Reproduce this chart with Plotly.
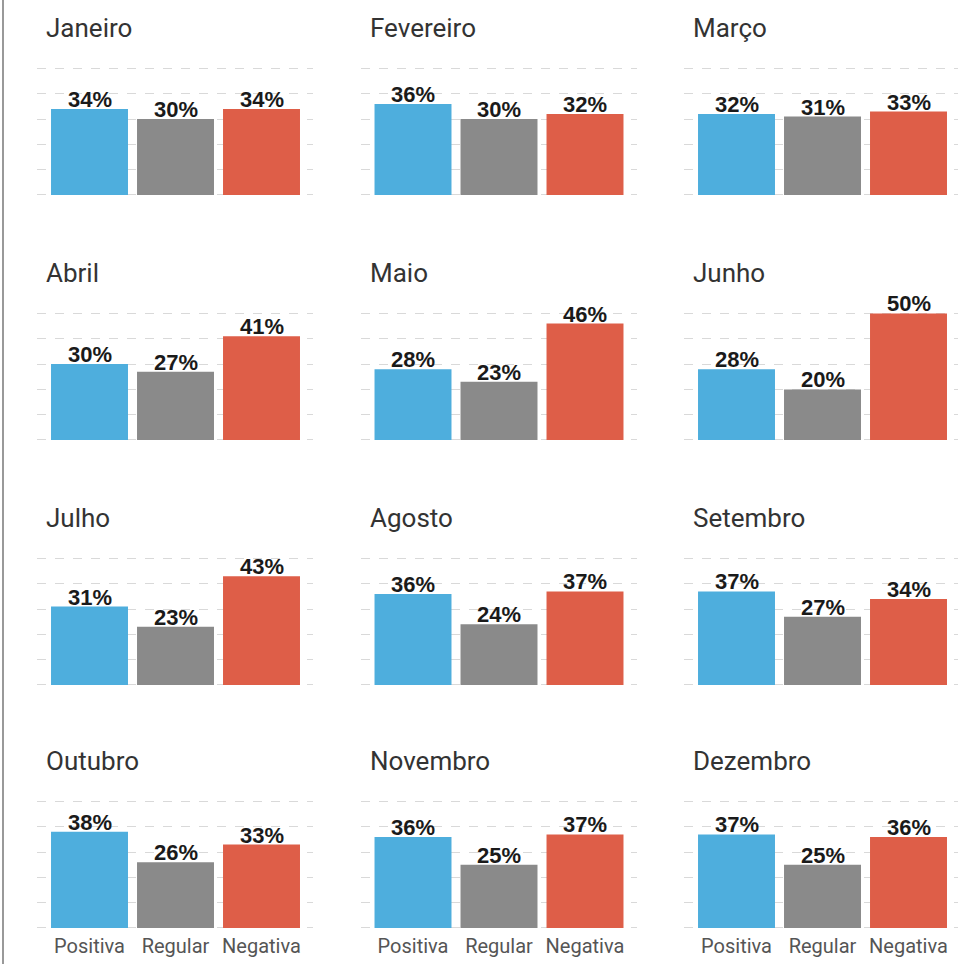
import plotly.graph_objects as go

months = ["Janeiro", "Fevereiro", "Março", "Abril", "Maio", "Junho",
          "Julho", "Agosto", "Setembro", "Outubro", "Novembro", "Dezembro"]
categories = ["Positiva", "Regular", "Negativa"]
positiva = [34, 36, 32, 30, 28, 28, 31, 36, 37, 38, 36, 37]
regular = [30, 30, 31, 27, 23, 20, 23, 24, 27, 26, 25, 25]
negativa = [34, 32, 33, 41, 46, 50, 43, 37, 34, 33, 37, 36]
colors = ["#4EAEDD", "#8A8A8A", "#DE5E48"]

W, H = 958, 964
fig = go.Figure()

col_left = [37, 360.5, 684]
row_bottom = [195, 440, 685, 928]
dom_w = 276
px_per_cat = 86
first_center_off = 52.5
px_per_pct = 2.53
pad_pct = 0.8

annotations = []
for i, m in enumerate(months):
    r, c = divmod(i, 3)
    L = col_left[c]
    R = min(L + dom_w, W)
    B = row_bottom[r] + pad_pct * px_per_pct
    T = row_bottom[r] - (50 + pad_pct) * px_per_pct
    n = i + 1
    xa = "x" if n == 1 else f"x{n}"
    ya = "y" if n == 1 else f"y{n}"
    vals = [positiva[i], regular[i], negativa[i]]
    fig.add_trace(go.Bar(
        x=categories, y=vals, xaxis=xa, yaxis=ya,
        marker=dict(color=colors, line=dict(width=0)),
        width=0.895, cliponaxis=False, showlegend=False, hoverinfo="skip",
    ))
    for cat, v in zip(categories, vals):
        annotations.append(dict(
            text=f"<b>{v}%</b>", xref=xa, yref=ya, x=cat, y=v,
            xanchor="center", yanchor="bottom", yshift=-5, showarrow=False,
            font=dict(family="Liberation Sans", size=22, color="#1a1a1a"),
        ))
    x0 = -first_center_off / px_per_cat
    x1 = x0 + (R - L) / px_per_cat
    fig.layout[f"xaxis{'' if n == 1 else n}"] = dict(
        domain=[L / W, R / W], anchor=ya, range=[x0, x1],
        showgrid=False, zeroline=False, showline=False, ticks="",
        showticklabels=(r == 3), ticklabelstandoff=2,
        tickfont=dict(family="Roboto", size=20, color="#555555"),
        fixedrange=True,
    )
    fig.layout[f"yaxis{'' if n == 1 else n}"] = dict(
        domain=[1 - B / H, 1 - T / H], anchor=xa,
        range=[-pad_pct, 50 + pad_pct],
        tick0=0, dtick=10, showgrid=True, gridcolor="#d9d9d9", griddash="dash",
        gridwidth=1.3, zeroline=False, showticklabels=False, ticks="",
        showline=False, fixedrange=True,
    )
    annotations.append(dict(
        text=m, xref="paper", yref="paper",
        x=(L + 7) / W, y=1 - (row_bottom[r] - 167) / H,
        xanchor="left", yanchor="middle", showarrow=False,
        font=dict(family="Roboto", size=26, color="#333333"),
    ))

fig.update_layout(
    width=W, height=H, margin=dict(l=0, r=0, t=0, b=0),
    paper_bgcolor="white", plot_bgcolor="white",
    annotations=annotations, bargap=0.1,
    shapes=[dict(type="line", xref="paper", yref="paper",
                 x0=3 / W, x1=3 / W, y0=0, y1=1,
                 line=dict(color="#999999", width=2))],
)
fig.write_html("out.html", config={"displayModeBar": False},
               post_script="document.body.style.margin='0px';")
